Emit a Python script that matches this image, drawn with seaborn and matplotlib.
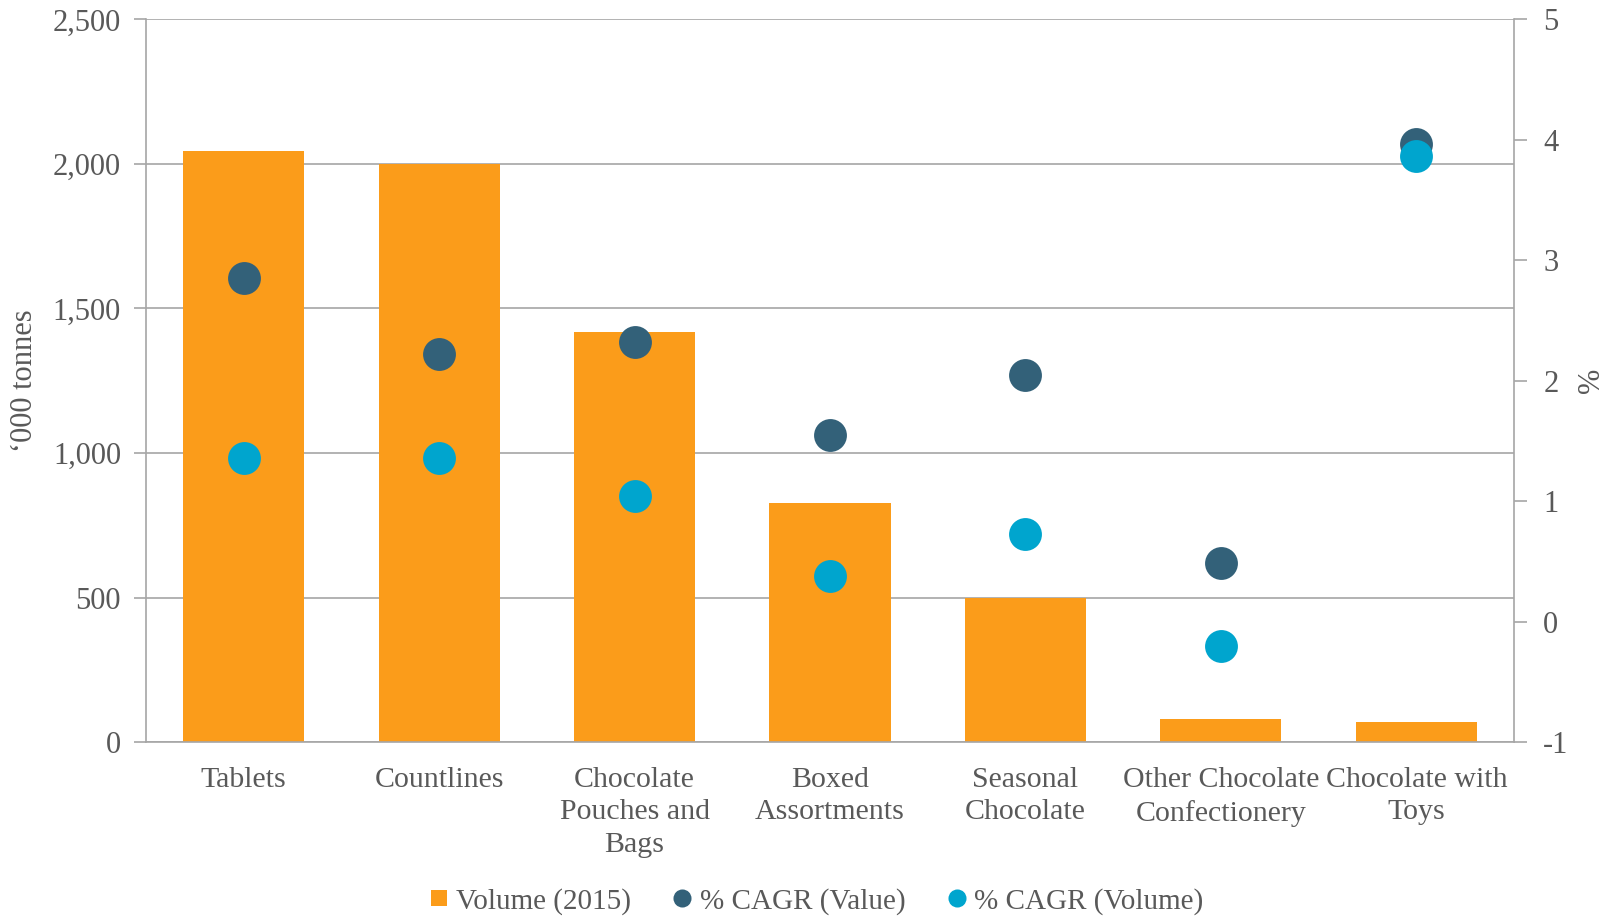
import numpy as np
import pandas as pd
import matplotlib
matplotlib.use("Agg")
import matplotlib.pyplot as plt
from matplotlib.lines import Line2D
import seaborn as sns

categories = ["Tablets", "Countlines", "Chocolate\nPouches and\nBags", "Boxed\nAssortments",
              "Seasonal\nChocolate", "Other Chocolate\nConfectionery", "Chocolate with\nToys"]
volume_2015 = [2045, 2000, 1418, 828, 500, 80, 69]          # '000 tonnes
cagr_value = [2.85, 2.22, 2.32, 1.55, 2.05, 0.49, 3.97]     # %
cagr_volume = [1.36, 1.36, 1.04, 0.38, 0.73, -0.2, 3.87]    # %

ORANGE = "#FB9C1A"
DARK = "#336179"
CYAN = "#00A5CE"
TEXT = "#595959"
LINE = "#A6A6A6"
FS = 22

sns.set_theme(style="white")
plt.rcParams["font.family"] = ["Liberation Serif", "DejaVu Serif"]
plt.rcParams["axes.unicode_minus"] = False

df = pd.DataFrame({"pos": np.arange(len(categories)), "category": categories,
                   "volume": volume_2015, "value": cagr_value, "vol_cagr": cagr_volume})

fig = plt.figure(figsize=(16.21, 9.18), dpi=100)
ax = fig.add_axes([0.0901, 0.1917, 0.8439, 0.7871])

sns.barplot(data=df, x="pos", y="volume", color=ORANGE, width=0.62, saturation=1,
            linewidth=0, ax=ax)
ax.set_ylim(0, 2500)
ax.set_yticks(np.arange(0, 2501, 500))
ax.set_yticklabels([f"{v:,}" for v in range(0, 2501, 500)])
ax.set_xlim(-0.5, len(categories) - 0.5)
ax.set_xticks(np.arange(len(categories)))
ax.set_xticklabels(categories)
ax.set_xticks(np.arange(-0.5, len(categories)), minor=True)
ax.tick_params(axis="x", which="major", length=0, pad=18, labelsize=21.5, labelcolor=TEXT)
ax.tick_params(axis="x", which="minor", length=9, width=1.2, color=LINE, direction="out")
ax.tick_params(axis="y", length=9, width=1.2, color=LINE, direction="out", pad=9,
               labelsize=FS, labelcolor=TEXT, left=True)
plt.setp(ax.get_xticklabels(), linespacing=1.32)
ax.grid(axis="y", color=LINE, linewidth=1.2)
ax.set_axisbelow(True)
for side in ("top", "right"):
    ax.spines[side].set_visible(False)
for side in ("left", "bottom"):
    ax.spines[side].set_color(LINE)
    ax.spines[side].set_linewidth(1.2)
ax.set_xlabel("")
ax.set_ylabel("\u2018000 tonnes", fontsize=FS, color=TEXT, labelpad=10)

ax2 = ax.twinx()
sns.scatterplot(data=df, x="pos", y="value", color=DARK, s=560, linewidth=0, ax=ax2, zorder=3)
sns.scatterplot(data=df, x="pos", y="vol_cagr", color=CYAN, s=560, linewidth=0, ax=ax2, zorder=4)
ax2.set_ylim(-1, 5)
ax2.set_yticks(np.arange(-1, 6, 1))
ax2.set_xlim(-0.5, len(categories) - 0.5)
ax2.tick_params(axis="y", length=9, width=1.2, color=LINE, direction="out", pad=12,
                labelsize=FS, labelcolor=TEXT, right=True)
for side in ("top", "left", "bottom"):
    ax2.spines[side].set_visible(False)
ax2.spines["right"].set_color(LINE)
ax2.spines["right"].set_linewidth(1.2)
ax2.set_ylabel("%", fontsize=FS, color=TEXT, labelpad=6)
ax2.grid(False)

handles = [
    Line2D([], [], marker="s", linestyle="", markersize=12, markerfacecolor=ORANGE, markeredgewidth=0),
    Line2D([], [], marker="o", linestyle="", markersize=13, markerfacecolor=DARK, markeredgewidth=0),
    Line2D([], [], marker="o", linestyle="", markersize=13, markerfacecolor=CYAN, markeredgewidth=0),
]
labels = ["Volume (2015)", "% CAGR (Value)", "% CAGR (Volume)"]
fig.legend(handles, labels, loc="center", bbox_to_anchor=(0.502, 0.018), ncol=3, frameon=False,
           fontsize=21, labelcolor=TEXT, handletextpad=0.1, columnspacing=1.25, handlelength=1.0)

fig.savefig("out.png", dpi=100)
